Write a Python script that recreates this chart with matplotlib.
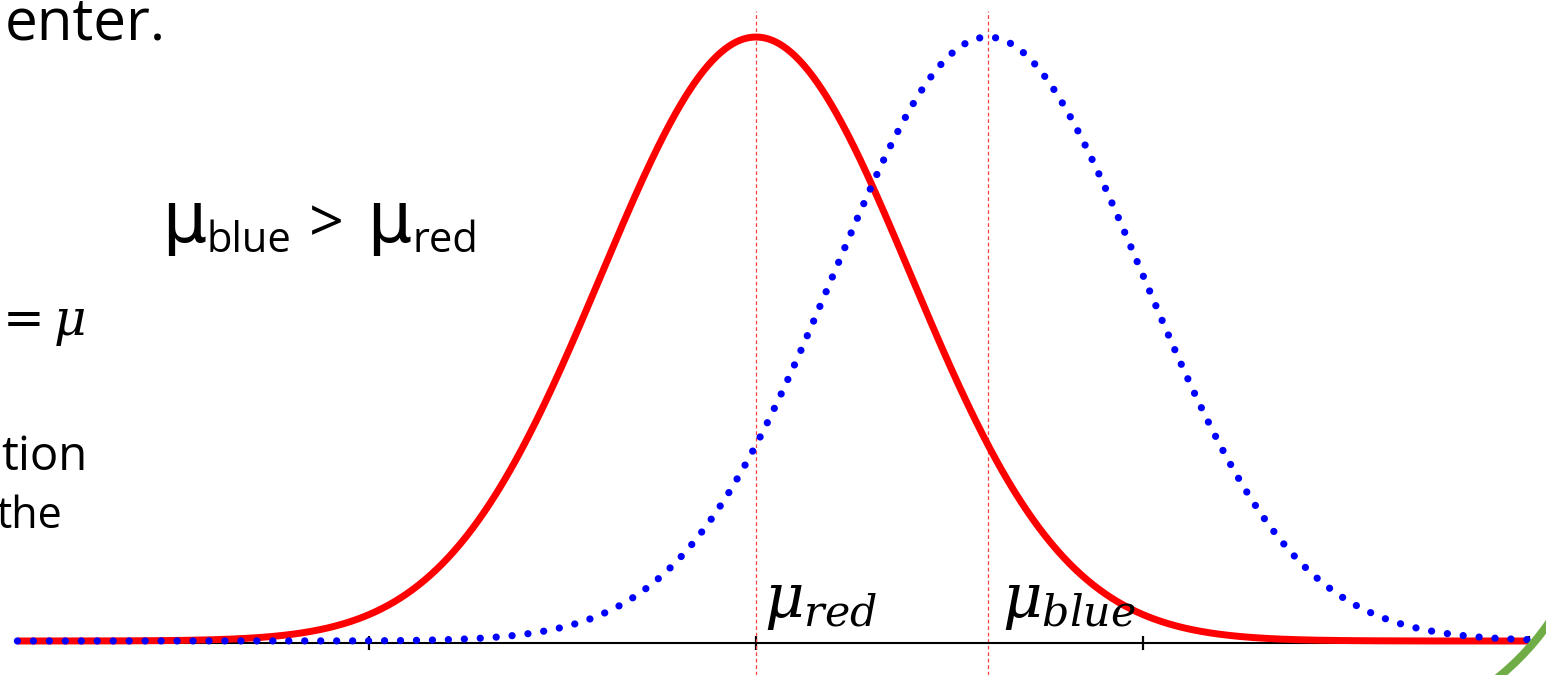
import numpy as np
import matplotlib.pyplot as plt
from matplotlib.patches import Arc

# distribution parameters (x in axis tick units)
mean_red = 0.0
mean_blue = 0.6
sigma = 0.4
x_start, x_end = -1.91, 2.0
tick_pos = [-1, 0, 1, 2]

W, H = 1546, 675
fig = plt.figure(figsize=(W / 100, H / 100), dpi=100)
ax = fig.add_axes([0, 0, 1, 1])
ax.set_xlim(-1.955, 2.043)
ax.set_ylim(-0.0563, 1.0613)

x = np.linspace(x_start, x_end, 1000)
red = np.exp(-0.5 * ((x - mean_red) / sigma) ** 2)
blue = np.exp(-0.5 * ((x - mean_blue) / sigma) ** 2)

ax.plot(x, red, color='#ff0000', lw=5, solid_capstyle='butt', zorder=3)
ax.plot(x, blue, color='#0000ff', lw=5.2, linestyle=(0, (0.01, 2.2)),
        dash_capstyle='round', zorder=4)

# dashed lines at the means
for m in [mean_red, mean_blue]:
    ax.axvline(m, ymin=0, ymax=1 - 11 / H, color='#ff4040', lw=0.9,
               ls=(0, (3, 2.2)), zorder=2)

# number line
for s in ['top', 'right', 'left']:
    ax.spines[s].set_visible(False)
ax.spines['bottom'].set_position(('data', -0.004))
ax.spines['bottom'].set_bounds(x_start, x_end)
ax.spines['bottom'].set_linewidth(1.5)
ax.set_xticks(tick_pos)
ax.set_xticklabels([])
ax.set_yticks([])
ax.tick_params(axis='x', direction='inout', length=10, width=1.6, color='black')

# labels at the means
ax.annotate(r'$\mu_{red}$', xy=(mean_red, 0), xytext=(8, 24), textcoords='offset pixels',
            fontsize=44, math_fontfamily='dejavuserif', va='baseline')
ax.annotate(r'$\mu_{blue}$', xy=(mean_blue, 0), xytext=(14, 24), textcoords='offset pixels',
            fontsize=44, math_fontfamily='dejavuserif', va='baseline')


def ptext(px, py, s, **kw):
    fig.text(px / W, 1 - py / H, s, va='baseline', **kw)


# slide text around the chart
ptext(166, 40, 'enter.', ha='right', fontsize=42, family='Open Sans')
ptext(86, 335, r'$=\mu$', ha='right', fontsize=36, math_fontfamily='dejavuserif')
ptext(88, 470, 'tion', ha='right', fontsize=34, family='Open Sans')
ptext(62, 528, 'the', ha='right', fontsize=31, family='Open Sans')

ptext(162, 242, 'μ', fontsize=50, family='DejaVu Sans')
ptext(207, 252, 'blue', fontsize=30, family='Open Sans')
ptext(309, 242, '>', fontsize=44, family='Open Sans')
ptext(367, 242, 'μ', fontsize=50, family='DejaVu Sans')
ptext(412, 252, 'red', fontsize=30, family='Open Sans')

# green arc in the corner
fig.add_artist(Arc((13.30, 2.05), 5.34, 5.34, theta1=-60, theta2=-20,
                   color='#70ad47', lw=5.8, transform=fig.dpi_scale_trans))

fig.savefig('out.png', dpi=100)
